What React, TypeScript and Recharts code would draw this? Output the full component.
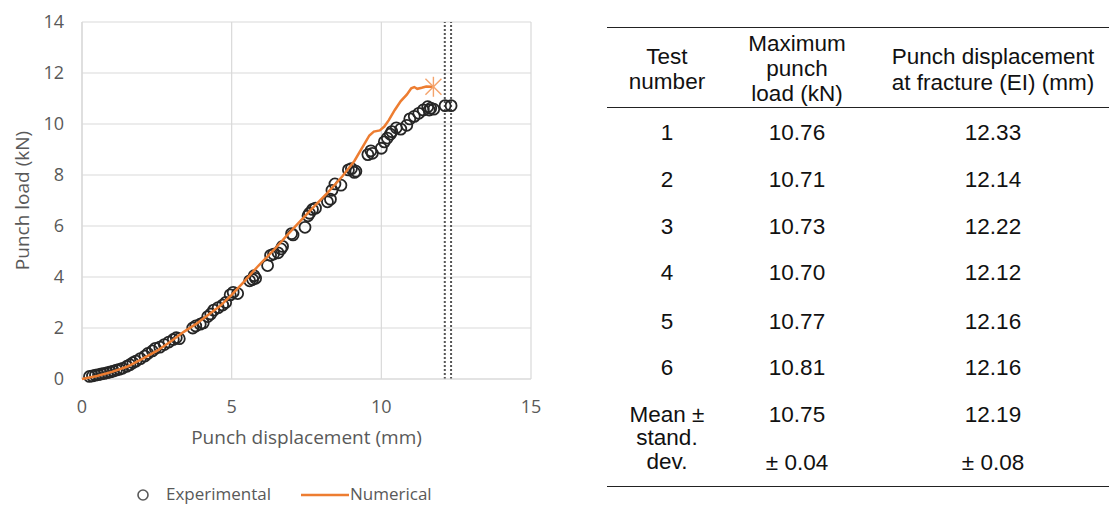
import React from 'react';
import {
  ScatterChart,
  Scatter,
  XAxis,
  YAxis,
  CartesianGrid,
  ReferenceLine,
  Legend,
  Label,
} from 'recharts';

// Small punch test: measured load-displacement points (x: mm, y: kN)
const experimental: [number, number][] = [
  [0.25, 0.1], [0.35, 0.12], [0.45, 0.15], [0.55, 0.17], [0.65, 0.2], [0.75, 0.22],
  [0.85, 0.25], [0.95, 0.28], [1.05, 0.31], [1.15, 0.35], [1.25, 0.38], [1.35, 0.42],
  [1.5, 0.5], [1.6, 0.56], [1.7, 0.64], [1.8, 0.7], [1.95, 0.8], [2.1, 0.9],
  [2.2, 1.0], [2.35, 1.1], [2.45, 1.2], [2.6, 1.25], [2.75, 1.35], [2.9, 1.45],
  [3.05, 1.55], [3.15, 1.62], [3.25, 1.58], [3.7, 2.0], [3.8, 2.08], [3.95, 2.15],
  [4.05, 2.2], [4.2, 2.45], [4.3, 2.55], [4.4, 2.7], [4.55, 2.8], [4.7, 2.9],
  [4.8, 3.0], [4.95, 3.3], [5.05, 3.4], [5.2, 3.35], [5.6, 3.85], [5.7, 3.9],
  [5.75, 4.05], [5.8, 3.95], [6.2, 4.45], [6.3, 4.85], [6.4, 4.9], [6.55, 4.95],
  [6.65, 5.1], [6.7, 5.2], [7.0, 5.7], [7.05, 5.65], [7.45, 5.95], [7.55, 6.4],
  [7.6, 6.5], [7.7, 6.65], [7.8, 6.7], [8.2, 6.95], [8.3, 7.05], [8.35, 7.4],
  [8.45, 7.65], [8.65, 7.6], [8.9, 8.2], [9.0, 8.25], [9.1, 8.1], [9.15, 8.15],
  [9.55, 8.8], [9.65, 8.95], [9.7, 8.85], [10.0, 9.05], [10.1, 9.3], [10.2, 9.45],
  [10.3, 9.6], [10.35, 9.7], [10.5, 9.85], [10.65, 9.8], [10.85, 9.95], [10.95, 10.2],
  [11.1, 10.3], [11.25, 10.42], [11.4, 10.55], [11.55, 10.68], [11.6, 10.55], [11.65, 10.62],
  [11.75, 10.58], [12.13, 10.72], [12.33, 10.72],
];

// Simulated load-displacement curve
const numerical: [number, number][] = [
  [0, 0], [0.5, 0.12], [1.0, 0.28], [1.5, 0.48], [2.0, 0.78], [2.5, 1.1],
  [3.0, 1.5], [3.4, 1.85], [3.8, 2.15], [4.2, 2.5], [4.6, 2.85], [5.0, 3.3],
  [5.4, 3.8], [5.9, 4.45], [6.4, 5.05], [6.9, 5.7], [7.3, 6.2], [7.7, 6.7],
  [8.2, 7.3], [8.7, 7.95], [9.1, 8.55], [9.45, 9.25], [9.6, 9.55], [9.75, 9.7],
  [9.95, 9.75], [10.1, 9.9], [10.25, 10.15], [10.45, 10.55], [10.65, 10.9], [10.85, 11.15],
  [11.0, 11.4], [11.1, 11.45], [11.2, 11.38], [11.35, 11.42], [11.5, 11.47], [11.72, 11.46],
];

// Predicted fracture point at the end of the simulation
const fracturePoint: [number, number] = [11.74, 11.46];

const xTicks = [0, 5, 10, 15];
const yTicks = [0, 2, 4, 6, 8, 10, 12, 14];

// Table of test results
const testNumbers = ['1', '2', '3', '4', '5', '6'];
const maxLoads = ['10.76', '10.71', '10.73', '10.70', '10.77', '10.81'];
const fractureDisp = ['12.33', '12.14', '12.22', '12.12', '12.16', '12.16'];
const meanLabel = ['Mean ±', 'stand.', 'dev.'];
const meanLoad = '10.75';
const sdLoad = '± 0.04';
const meanDisp = '12.19';
const sdDisp = '± 0.08';
const headers = [
  ['Test', 'number'],
  ['Maximum', 'punch', 'load (kN)'],
  ['Punch displacement', 'at fracture (EI) (mm)'],
];

const ORANGE = '#ED7D31';
const GRID = '#d9d9d9';
const TEXT_GRAY = '#595959';
const CHART_FONT = '"Open Sans", "Noto Sans", sans-serif';
const TABLE_FONT = '"Liberation Sans", Arial, sans-serif';

const expData = experimental.map(([x, y]) => ({ x, y }));
const numData = numerical.map(([x, y]) => ({ x, y }));
const fracData = [{ x: fracturePoint[0], y: fracturePoint[1] }];
const dispValues = fractureDisp.map(Number);
const dispMin = Math.min(...dispValues);
const dispMax = Math.max(...dispValues);

const OpenCircle = (p: any) => (
  <circle cx={p.cx} cy={p.cy} r={5.5} fill="none" stroke="#262626" strokeWidth={1.8} />
);

const StarMark = (p: any) => {
  const { cx, cy } = p;
  const r = 10;
  const d = 8;
  return (
    <g stroke="#F4A36C" strokeWidth={1.4}>
      <line x1={cx} y1={cy - r} x2={cx} y2={cy + r} />
      <line x1={cx - d} y1={cy - d} x2={cx + d} y2={cy + d} />
      <line x1={cx - d} y1={cy + d} x2={cx + d} y2={cy - d} />
    </g>
  );
};

const NoMark = () => <g />;

const LegendBox = () => (
  <div style={{ position: 'relative', width: 560, height: 22, fontFamily: CHART_FONT, fontSize: 17, color: TEXT_GRAY }}>
    <svg width={16} height={16} style={{ position: 'absolute', left: 135, top: 4 }}>
      <circle cx={8} cy={8} r={5} fill="none" stroke="#595959" strokeWidth={1.6} />
    </svg>
    <span style={{ position: 'absolute', left: 166, top: 0, lineHeight: '22px' }}>Experimental</span>
    <svg width={48} height={6} style={{ position: 'absolute', left: 301, top: 9 }}>
      <line x1={0} y1={3} x2={48} y2={3} stroke={ORANGE} strokeWidth={2.5} />
    </svg>
    <span style={{ position: 'absolute', left: 350, top: 0, lineHeight: '22px' }}>Numerical</span>
  </div>
);

const XTitle = (props: any) => {
  const vb = props.viewBox;
  return (
    <text x={vb.x + vb.width / 2} y={vb.y + 65} textAnchor="middle" fill={TEXT_GRAY}
      fontSize={19} fontFamily={CHART_FONT}>
      Punch displacement (mm)
    </text>
  );
};

const YTitle = (props: any) => {
  const vb = props.viewBox;
  const cx = 29;
  const cy = vb.y + vb.height / 2;
  return (
    <text x={cx} y={cy} transform={`rotate(-90 ${cx} ${cy})`} textAnchor="middle" fill={TEXT_GRAY}
      fontSize={19} fontFamily={CHART_FONT}>
      Punch load (kN)
    </text>
  );
};

const Cell = ({ cx, cy, lines, lh }: { cx: number; cy: number; lines: string[]; lh: number }) => (
  <div
    style={{
      position: 'absolute',
      left: cx - 130,
      width: 260,
      top: cy - (lines.length * lh) / 2,
      textAlign: 'center',
      lineHeight: `${lh}px`,
      whiteSpace: 'nowrap',
    }}
  >
    {lines.map((t, i) => (
      <div key={i}>{t}</div>
    ))}
  </div>
);

const colCenters = [667, 797, 993];
const rowCenters = [133, 180, 227, 273, 322, 368];

const ResultsTable = () => (
  <div style={{ position: 'absolute', left: 0, top: 0, width: 1109, height: 506, fontFamily: TABLE_FONT, fontSize: 22.5, color: '#111' }}>
    <div style={{ position: 'absolute', left: 607, width: 502, top: 27, height: 0, borderTop: '1.5px solid #222' }} />
    <div style={{ position: 'absolute', left: 607, width: 502, top: 107, height: 0, borderTop: '1.5px solid #222' }} />
    <div style={{ position: 'absolute', left: 607, width: 502, top: 486, height: 0, borderTop: '1.5px solid #222' }} />
    <Cell cx={colCenters[0]} cy={69} lines={headers[0]} lh={25.5} />
    <Cell cx={colCenters[1]} cy={68} lines={headers[1]} lh={25} />
    <Cell cx={colCenters[2]} cy={69.5} lines={headers[2]} lh={25.5} />
    {testNumbers.map((n, i) => (
      <React.Fragment key={n}>
        <Cell cx={colCenters[0]} cy={rowCenters[i]} lines={[n]} lh={26} />
        <Cell cx={colCenters[1]} cy={rowCenters[i]} lines={[maxLoads[i]]} lh={26} />
        <Cell cx={colCenters[2]} cy={rowCenters[i]} lines={[fractureDisp[i]]} lh={26} />
      </React.Fragment>
    ))}
    <Cell cx={colCenters[0]} cy={438} lines={meanLabel} lh={23.5} />
    <Cell cx={colCenters[1]} cy={415} lines={[meanLoad]} lh={26} />
    <Cell cx={colCenters[2]} cy={415} lines={[meanDisp]} lh={26} />
    <Cell cx={colCenters[1]} cy={463} lines={[sdLoad]} lh={26} />
    <Cell cx={colCenters[2]} cy={463} lines={[sdDisp]} lh={26} />
  </div>
);

export default function App() {
  return (
    <div style={{ position: 'absolute', left: 0, top: 0, width: 1109, height: 506, background: '#fff', overflow: 'hidden' }}>
      <div style={{ position: 'absolute', left: 0, top: 0 }}>
        <ScatterChart width={560} height={506} margin={{ top: 22, right: 29, bottom: 57, left: 22 }}>
          <CartesianGrid stroke={GRID} strokeWidth={1.2} />
          <XAxis
            type="number"
            dataKey="x"
            domain={[0, 15]}
            ticks={xTicks}
            height={70}
            tickLine={false}
            tickSize={0}
            tickMargin={21}
            axisLine={{ stroke: GRID, strokeWidth: 1.2 }}
            tick={{ fill: TEXT_GRAY, fontSize: 18, fontFamily: CHART_FONT }}
          >
            <Label content={<XTitle />} />
          </XAxis>
          <YAxis
            type="number"
            dataKey="y"
            domain={[0, 14]}
            ticks={yTicks}
            width={60}
            tickLine={false}
            tickSize={0}
            tickMargin={18}
            axisLine={{ stroke: GRID, strokeWidth: 1.2 }}
            tick={{ fill: TEXT_GRAY, fontSize: 18, fontFamily: CHART_FONT }}
          >
            <Label content={<YTitle />} />
          </YAxis>
          <ReferenceLine x={dispMin} stroke="#555" strokeWidth={2} strokeDasharray="2 2" />
          <ReferenceLine x={dispMax} stroke="#555" strokeWidth={2} strokeDasharray="2 2" />
          <Scatter name="Experimental" data={expData} shape={OpenCircle} isAnimationActive={false} />
          <Scatter
            name="Numerical"
            data={numData}
            line={{ stroke: ORANGE, strokeWidth: 2.5 }}
            lineType="joint"
            shape={NoMark}
            isAnimationActive={false}
          />
          <Scatter name="Fracture" data={fracData} shape={StarMark} isAnimationActive={false} />
          <Legend
            layout="horizontal"
            verticalAlign="middle"
            align="center"
            content={<LegendBox />}
            wrapperStyle={{ left: 0, top: 483, width: 560, height: 22 }}
          />
        </ScatterChart>
      </div>
      <ResultsTable />
    </div>
  );
}
